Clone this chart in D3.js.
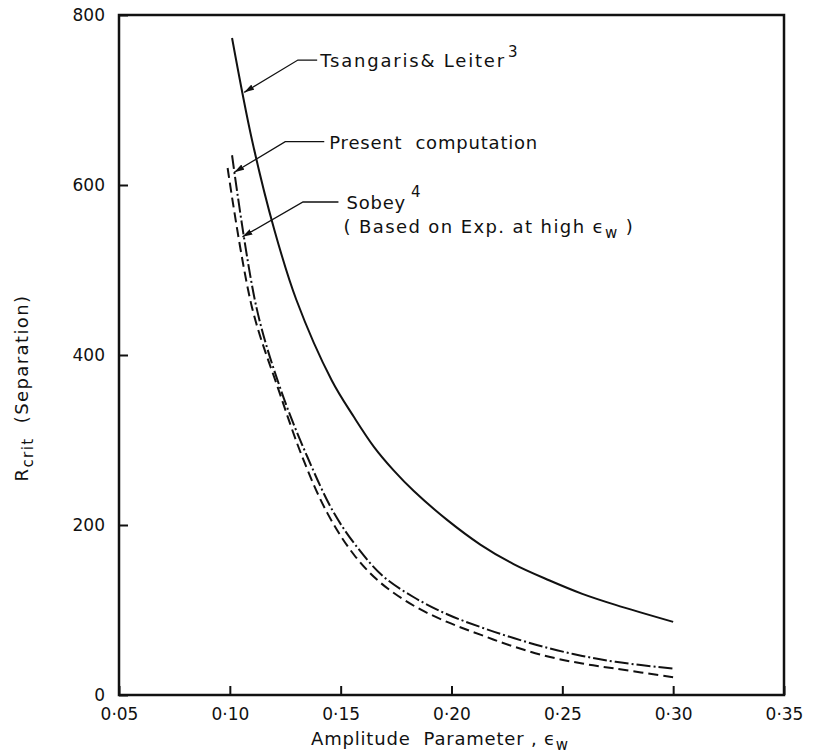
<!DOCTYPE html>
<html>
<head>
<meta charset="utf-8">
<script src="https://cdn.jsdelivr.net/npm/d3@7"></script>
<style>
  body { margin: 0; background: #fff; }
  svg text { font-family: 'DejaVu Sans', sans-serif; fill: #111; }
  .axis path, .axis line { stroke: #111; }
</style>
</head>
<body>
<div id="chart"></div>
<script>
// x ticks and y ticks
const xTicks = [0.05, 0.10, 0.15, 0.20, 0.25, 0.30, 0.35];
const yTicks = [0, 200, 400, 600, 800];

// Tsangaris & Leiter (solid)
const tsangEps = [0.101, 0.110, 0.120, 0.130, 0.146, 0.156, 0.165, 0.174, 0.183, 0.198, 0.213, 0.228, 0.244, 0.259, 0.274, 0.300];
const tsangR = [773, 653, 548, 465, 370, 327, 292, 264, 240, 206, 177, 154, 135, 119, 106, 86];

// Present computation (dash-dot)
const presEps = [0.101, 0.112, 0.123, 0.135, 0.147, 0.158, 0.169, 0.183, 0.198, 0.213, 0.228, 0.244, 0.259, 0.274, 0.300];
const presR = [635, 456, 359, 280, 214, 172, 140, 115, 95, 80, 67, 55, 46, 39, 31];

// Sobey (dashed)
const sobeyEps = [0.099, 0.110, 0.122, 0.133, 0.144, 0.156, 0.168, 0.183, 0.198, 0.213, 0.228, 0.244, 0.259, 0.274, 0.300];
const sobeyR = [620, 456, 359, 278, 214, 165, 132, 105, 86, 71, 57, 45, 37, 31, 21];

const width = 835;
const height = 753;

const x = d3.scaleLinear().domain([0.05, 0.35]).range([119, 784]);
const y = d3.scaleLinear().domain([0, 800]).range([695, 15]);

const svg = d3
  .select('#chart')
  .append('svg')
  .attr('width', width)
  .attr('height', height);

svg
  .append('defs')
  .append('marker')
  .attr('id', 'arrow')
  .attr('viewBox', '0 0 10 6')
  .attr('refX', 10)
  .attr('refY', 3)
  .attr('markerWidth', 10)
  .attr('markerHeight', 6)
  .attr('markerUnits', 'userSpaceOnUse')
  .attr('orient', 'auto')
  .append('path')
  .attr('d', 'M0,0 L10,3 L0,6 Z')
  .attr('fill', '#111');

// frame
svg
  .append('rect')
  .attr('x', x.range()[0])
  .attr('y', y.range()[1])
  .attr('width', x.range()[1] - x.range()[0])
  .attr('height', y.range()[0] - y.range()[1])
  .attr('fill', 'none')
  .attr('stroke', '#111')
  .attr('stroke-width', 2.5);

const xAxis = d3
  .axisBottom(x)
  .tickValues(xTicks)
  .tickSizeInner(-9)
  .tickSizeOuter(0)
  .tickPadding(13)
  .tickFormat((d) => d3.format('.2f')(d).replace('.', '·'));

svg
  .append('g')
  .attr('class', 'axis xaxis')
  .attr('transform', `translate(0,${y.range()[0]})`)
  .call(xAxis)
  .call((g) => g.select('.domain').remove())
  .call((g) => g.selectAll('line').attr('stroke-width', 2))
  .call((g) => g.selectAll('text').attr('font-size', 17).attr('fill', '#111'));

const yAxis = d3
  .axisLeft(y)
  .tickValues(yTicks)
  .tickSizeInner(-9)
  .tickSizeOuter(0)
  .tickPadding(14)
  .tickFormat(d3.format('d'));

svg
  .append('g')
  .attr('class', 'axis yaxis')
  .attr('transform', `translate(${x.range()[0]},0)`)
  .call(yAxis)
  .call((g) => g.select('.domain').remove())
  .call((g) => g.selectAll('line').attr('stroke-width', 2))
  .call((g) => g.selectAll('text').attr('font-size', 17).attr('fill', '#111'));

// curves
const line = d3
  .line()
  .x((d) => x(d[0]))
  .y((d) => y(d[1]))
  .curve(d3.curveCatmullRom.alpha(0.5));

const series = [
  { eps: tsangEps, r: tsangR, dash: null },
  { eps: presEps, r: presR, dash: '14,3,2,3' },
  { eps: sobeyEps, r: sobeyR, dash: '10,5' }
];

series.forEach((s) => {
  svg
    .append('path')
    .datum(d3.zip(s.eps, s.r))
    .attr('fill', 'none')
    .attr('stroke', '#111')
    .attr('stroke-width', 2)
    .attr('stroke-dasharray', s.dash)
    .attr('d', line);
});

// leader lines (tip, elbow, end of horizontal) in data units
const leaders = [
  { tip: [0.1065, 709], elbow: [0.1307, 747], end: [0.1394, 747] },
  { tip: [0.102, 615], elbow: [0.125, 651], end: [0.1426, 651] },
  { tip: [0.1057, 539], elbow: [0.133, 580], end: [0.149, 580] }
];

leaders.forEach((l) => {
  svg
    .append('path')
    .attr('d', d3.line()([l.end, l.elbow, l.tip].map((p) => [x(p[0]), y(p[1])])))
    .attr('fill', 'none')
    .attr('stroke', '#111')
    .attr('stroke-width', 1.3)
    .attr('marker-end', 'url(#arrow)');
});

// labels
const t1 = svg
  .append('text')
  .attr('x', x(0.1394) + 3)
  .attr('y', y(747) + 7)
  .attr('font-size', 18)
  .attr('letter-spacing', 1.8);
t1.append('tspan').text('Tsangaris& Leiter');
t1.append('tspan').attr('dy', -10).attr('dx', 2).attr('font-size', 15).text('3');

svg
  .append('text')
  .attr('x', x(0.1426) + 5)
  .attr('y', y(651) + 7)
  .attr('font-size', 18)
  .attr('letter-spacing', 0.8)
  .attr('xml:space', 'preserve')
  .text('Present  computation');

const t3 = svg
  .append('text')
  .attr('x', x(0.149) + 8)
  .attr('y', y(580) + 7)
  .attr('font-size', 18)
  .attr('letter-spacing', 0.8);
t3.append('tspan').text('Sobey');
t3.append('tspan').attr('dy', -12).attr('dx', 5).attr('font-size', 15).text('4');

const t4 = svg
  .append('text')
  .attr('x', x(0.149) + 5)
  .attr('y', y(580) + 31)
  .attr('font-size', 18)
  .attr('letter-spacing', 1.4)
  .attr('xml:space', 'preserve');
t4.append('tspan').text('( Based on Exp. at high ϵ');
t4.append('tspan').attr('dy', 5).attr('font-size', 15).text('w');
t4.append('tspan').attr('dy', -5).text(' )');

// axis titles
const xt = svg
  .append('text')
  .attr('x', 440)
  .attr('y', 745)
  .attr('text-anchor', 'middle')
  .attr('font-size', 18)
  .attr('letter-spacing', 0.8)
  .attr('xml:space', 'preserve');
xt.append('tspan').text('Amplitude  Parameter , ϵ');
xt.append('tspan').attr('dy', 5).attr('font-size', 15).text('w');

const yt = svg
  .append('text')
  .attr('transform', 'translate(28,388) rotate(-90)')
  .attr('text-anchor', 'middle')
  .attr('font-size', 18)
  .attr('letter-spacing', 1.4)
  .attr('xml:space', 'preserve');
yt.append('tspan').text('R');
yt.append('tspan').attr('dy', 5).attr('font-size', 15).text('crit');
yt.append('tspan').attr('dy', -5).text('  (Separation)');
</script>
</body>
</html>
